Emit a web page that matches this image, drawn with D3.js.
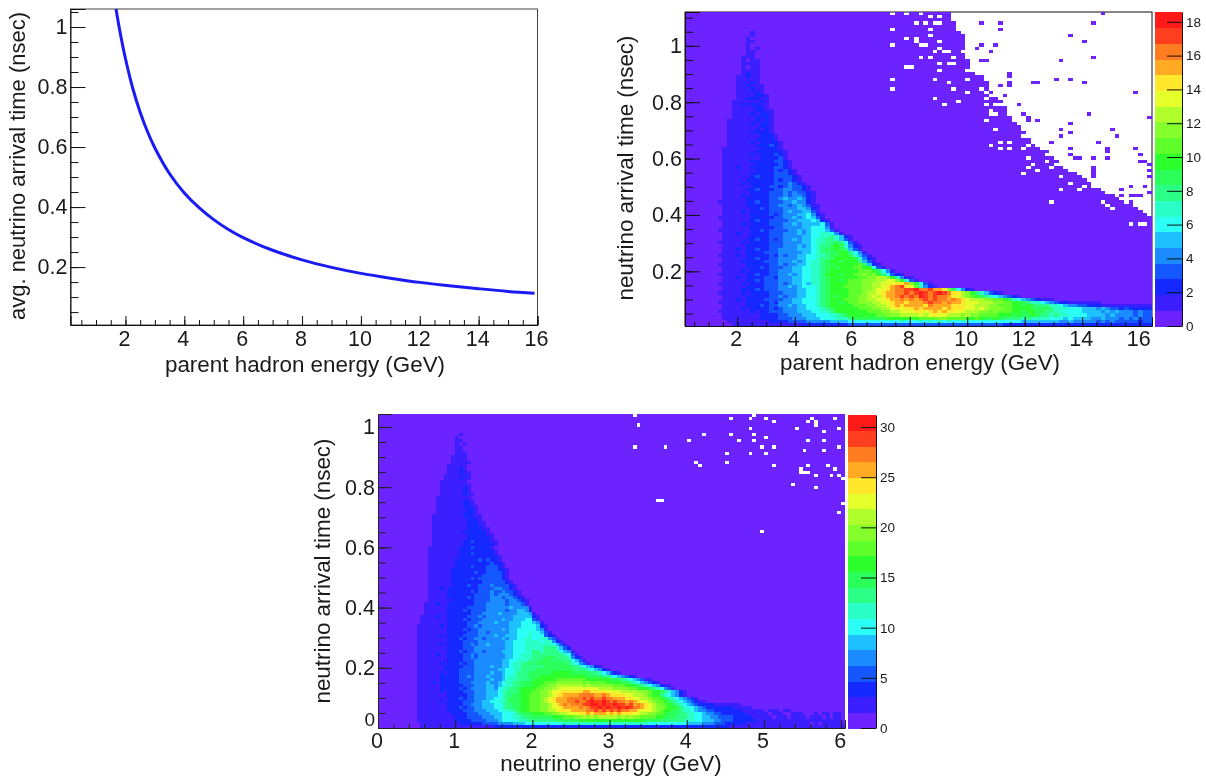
<!DOCTYPE html>
<html><head><meta charset="utf-8">
<script src="https://cdn.jsdelivr.net/npm/d3@7"></script>
<style>
html,body{margin:0;padding:0;background:#fff}
svg{display:block;filter:blur(0.4px)}
text{font-family:"Liberation Sans",Arial,sans-serif;fill:#1a1a1a}
</style></head><body>
<svg id="c" width="1206" height="777"></svg>
<script>
// ---------- data ----------
const curveEnergy = [1.68,1.8,2,2.25,2.5,2.75,3,3.5,4,4.5,5,5.5,6,7,8,9,10,11,12,13,14,15,15.9];
const curveTime   = [1.06,0.992,0.895,0.795,0.716,0.651,0.597,0.511,0.447,0.398,0.358,0.325,0.298,0.256,0.224,0.199,0.179,0.163,0.149,0.138,0.128,0.119,0.113];

const levelColors = ["#6c23ff","#3c1fff","#1428ff","#1557ff","#1b8cff","#1fc0ff","#2bfff5","#2bffc8","#2bff85","#2bff5a","#2cff2c","#5fff2c","#85ff2c","#b0ff2c","#e4ff2c","#ffe82c","#ffaa22","#ff7c20","#ff3e20","#ff1a1a"];

// Bin contents as palette levels (0-9, a-j), bottom row first: [first coloured column, levels]
const hadronRows = [
[10,"11111111 1111111222 2222222333 3333333333 3333333333 3333333333 2222222222 2222222222 222222222222"],
[9,"111111111 2222333344 4445555666 6666666676 6676767676 6766666666 6666555555 5544544444 343433333233"],
[8,"1111111122 2233344455 5666777899 99999aaaaa aabbbbccbb bbaaba99a9 8888787777 6665655554 454443434333"],
[8,"1111111122 2233444555 6667789aaa aaabbcccdd ddedefeedd dcdccbbbba aa9a99a988 7877666655 554544443433"],
[7,"11111112122 3334445556 6778aaaaaa abbbccddee effefgfgff eedddccbcb bbaa9aa998 8776666555 545454443433"],
[8,"1111212222 3234445566 6789aaaaab bbccddefef fgfggggfgf ffeededccc bbaaaa9999 8777666555 454332322222"],
[8,"1111122232 3344545566 789aaaaabb bccddefgfg gggfhggggf ffeedddccb bbaa9a9888 7765443322 211111111111"],
[7,"11111122222 3244455666 789aa9abbc ccddeefggf ggghihhghg gfeeedddcc bbaa987765 4322111111 1"],
[8,"1112122223 3334455666 789aaabbbc cddeefgghg hghihihhgh gfedddccbb a976543211 1"],
[8,"1111122222 3343445566 789a9aabbc cdedfgghih ihjihihhgf edcba98765 4321"],
[7,"11111212222 3334445566 789aaaabbb cddefgghhi hijihijihf fdca875321"],
[8,"1111222323 3344445566 789aaaabbb ccdeefghhi ijhhiggfc9 6421"],
[8,"1111122223 3344545666 789aaabbbb ccddefghif eb7421"],
[7,"11111212223 3343455657 789aaaabbb ccddeeeffg ca631"],
[8,"1111122323 3344455667 789aa9abbb cccddeeca7 31"],
[8,"1112122223 3244455667 789aaaaaab bccddca741 1"],
[7,"11111122322 3344545667 78aaa9aabb cbca86321"],
[8,"1111212222 3344455667 789aaaaaab bba9641"],
[8,"1111122232 3334455667 789a9aaabb aa631"],
[7,"11111122222 3343445567 7899aaaaab 9521"],
[8,"1111222223 3344454567 789aa9aaa8 531"],
[8,"1111122322 3344445566 7889aaaa97 421"],
[7,"11112122222 3243445566 77899aa975 31"],
[8,"1111122223 3344444556 78899aa864 1"],
[8,"1112122322 3344445556 7899a98531"],
[8,"1111122222 3334445456 7889a97421"],
[7,"11111212222 3334444556 778898631"],
[8,"1111122322 3234454556 77887531"],
[8,"1111112222 3334444556 67787521"],
[8,"1112112222 3334445456 677641"],
[7,"11111112232 3333445456 66531"],
[8,"1111112222 2334444556 6641"],
[8,"1111212222 3334454555 5631"],
[8,"1111112322 3333445556 521"],
[7,"11111112222 2334454565 31"],
[8,"1111112222 3234445564 21"],
[8,"1111212222 3334544553 1"],
[8,"1111112232 3334445542 1"],
[8,"1111122222 3344345431 1"],
[7,"11111122322 3334454421"],
[8,"1111122222 3345445421"],
[8,"1111212222 3334344321"],
[8,"1111112222 3334343321"],
[8,"1111122322 233443321"],
[8,"1111112222 332343321"],
[8,"1111212222 23334321"],
[8,"1111122222 2323321"],
[8,"1111112322 2333321"],
[8,"1111112222 233321"],
[8,"1111111222 232321"],
[8,"1112112222 23321"],
[8,"1111111222 22321"],
[8,"1111112222 23321"],
[8,"1111111122 2231"],
[8,"1111112122 2321"],
[8,"1111111222 2221"],
[8,"1111111122 221"],
[9,"111111222 321"],
[9,"111112122 221"],
[9,"111111222 21"],
[9,"111111122 21"],
[9,"111112222 1"],
[9,"111111212 1"],
[9,"111111122 1"],
[9,"1111121221"],
[9,"1111112121"],
[10,"111112221"],
[10,"111121221"],
[10,"111112211"],
[10,"11111221"],
[10,"11212211"],
[10,"11111121"],
[11,"1122211"],
[11,"1111221"],
[11,"111121"],
[11,"111211"],
[11,"112111"],
[11,"11121"],
[11,"11111"],
[11,"11211"],
[12,"1211"],
[12,"1111"],
[12,"1011"],
[12,"1111"],
[12,"1011"],
[12,"111"],
[13,"11"],
[13,"11"],
[13,"101"],
[13,"1"],
[13,"11"],
[13,"1"],
[14,"1"],
[14,"1"]
];
// first empty column for rows 35..99 of the hadron panel
const hadronEmptyFrom = [99,98,97,96,94,93,91,90,89,87,87,86,85,84,82,81,80,80,79,78,78,76,75,75,74,73,73,72,72,71,70,70,69,69,69,68,68,67,66,66,65,65,65,64,64,62,61,61,61,61,60,60,60,60,60,60,60,60,59,58,58,58,57,57,57];
// occupied bins beyond the empty edge [col,row]
const hadronStray = [[63,96],[67,96],[67,94],[82,92],[85,90],[63,89],[66,89],[62,88],[65,87],[87,85],[80,84],[64,84],[63,84],[69,80],[69,79],[79,78],[82,78],[74,77],[75,77],[69,77],[69,76],[85,77],[67,76],[96,74],[68,73],[71,70],[86,67],[72,67],[73,65],[73,66],[75,65],[99,66],[82,64],[80,62],[82,61],[91,62],[80,60],[92,60],[78,58],[88,58],[82,56],[90,56],[90,55],[96,56],[82,54],[83,53],[84,53],[87,53],[90,53],[97,54],[97,52],[98,52],[99,51],[99,49],[99,47],[87,50],[87,49],[87,48],[87,47],[95,44],[98,44],[93,43],[99,42],[89,99],[87,96],[91,41],[93,41],[95,41],[96,41],[97,41],[95,39]];
// empty bins inside the occupied region [col,row]
const hadronHoles = [[44,99],[47,99],[50,99],[52,98],[53,96],[54,98],[49,96],[51,96],[54,96],[44,94],[52,94],[47,91],[49,91],[52,92],[54,90],[49,90],[44,89],[50,89],[51,89],[54,88],[53,87],[55,87],[56,87],[59,87],[50,85],[52,85],[57,85],[47,82],[48,82],[54,83],[56,83],[54,81],[57,83],[60,81],[61,82],[44,78],[53,78],[56,77],[60,78],[64,78],[44,75],[57,75],[53,72],[60,74],[63,75],[64,74],[65,73],[55,70],[58,71],[64,72],[64,70],[65,68],[66,70],[67,70],[65,67],[66,67],[64,65],[66,62],[67,58],[69,58],[65,57],[67,56],[69,56],[72,56],[73,53],[73,50],[75,49],[72,48],[74,51],[80,47],[82,45],[80,43],[84,43],[85,44],[78,39],[89,39],[90,38],[91,37],[72,60],[74,58],[73,57],[75,57],[76,56],[77,54],[77,52],[78,50],[79,51],[95,32],[97,32],[98,32]];

const neutrinoRows = [
[11,"111111111 1111111111 2222222222 2222222222 2222222222 2222222222 2222222222 2222222222 2111111111 1111111111 1111111111 1"],
[11,"111111111 1222222333 3444455566 6666666677 7777777777 7777777777 6666666666 5555444333 2222211111 1111111111 1101011111"],
[10,"1111111111 2222333344 4566667778 8888889999 99aaaaaaaa aaaaaaaaa9 9998988887 7766555443 3322222211 1111111111 1111111111"],
[10,"1111111111 2223333444 5566677889 99999aaabb bccdcdcddd ddcdcdccbb bbaa999888 7766554433 3322222111 1101110111 1011101011"],
[10,"1111111112 2223334445 5566678999 aaabbccdde eeffgfgggf gfgfffeedd ccbba99988 7766544332 2222211111 1011100111 0001011011"],
[10,"1111111122 2233344455 5667789aab bbccddefff gggghhihih ihihhggfee edcbaa9987 7654433222 2222111111 0111011"],
[10,"1111111122 2323344555 6678899aab bbccdeefgg gghghiijij iijijihhgf edccbaa987 6654322222 2211111"],
[10,"1111111122 2233444555 6678899aab bbccdefghg hhhiijjiji ijiihighgf edcbba9876 5432222111 1111"],
[10,"1111112122 2233344556 6778999aab bbcdefgggh hihhijiiji hihhghgfee dcbba98765 43211"],
[10,"1111111122 2323344455 6678999aab bbcdefgggh hhhihihhih hgggffeedd cbba987654 321"],
[10,"1111111122 2223344455 5678899aab bbccdeffgg gghhhhgghg ffffeedddc baa8765421"],
[10,"1111112122 2233344455 5678889aaa bbccdeefff fffggffffe eeeddddccc baa9875421"],
[10,"1111112222 2323444455 4677889aaa abbccddeee eeeeeeeddd dccccbbaaa 9876431"],
[10,"1111112222 2233344455 4567788999 aabbccdddd dddcdccccc cbbbaa9987 654211"],
[10,"1111212222 2333444454 4567788999 aaabbbcccc cccbcbbbba aaa9987654 321"],
[10,"1111112222 2333344445 4457778889 9aaaaabbbb bbbbaaaaaa 9998765431 1"],
[10,"1111112222 2334344454 4456778889 99aaaaaaaa aaaa999988 7654321"],
[10,"1111112122 2333344445 4456678889 99999aaaaa 9999988765 321"],
[10,"1111111222 2333344444 4556677888 8999999999 9888765421"],
[10,"1111111222 2233344445 4455677888 8889999999 88765421"],
[10,"1111112122 2323344444 4455677889 8999999998 76431"],
[10,"1111111122 2233344444 4455667778 8899989888 6531"],
[10,"1111111122 2233434444 4445566777 8889998887 421"],
[10,"1111121122 2233434444 4445566777 8888888876 31"],
[10,"1111111122 2323344344 4455566677 8878888654 1"],
[10,"1111111122 2233344444 4445566677 7778887532"],
[10,"1111112122 2233434454 4445566677 777776531"],
[10,"1111111122 2233334444 4445566677 77677421"],
[10,"1111111122 2323344344 4454556677 6677431"],
[10,"1111112122 2233334444 5445556667 666321"],
[10,"1111111122 2223334434 4444556667 66531"],
[10,"1111111122 2232334444 4454556666 6541"],
[10,"1111112122 2223343444 4444555666 6521"],
[11,"111111122 2223334444 5444555666 541"],
[11,"111111122 2232333444 4454455566 31"],
[11,"111121122 2223334344 4444455555 21"],
[12,"11111122 2222333444 4544445554 1"],
[12,"11111122 2232333344 4443445542"],
[12,"11111122 2223333344 4444544441"],
[12,"11121122 2222233344 444344431"],
[13,"1111112 2222233334 444344321"],
[13,"1111122 2223233334 44344321"],
[13,"1111122 2222233334 3444321"],
[13,"1111122 2222323334 3343321"],
[13,"1112122 2222223333 443321"],
[13,"1111112 2223223334 333321"],
[13,"1111112 2222222333 33321"],
[13,"1111112 2222323333 3321"],
[13,"1111112 2222222333 3321"],
[13,"1111112 2222232233 3321"],
[13,"1111112 2222222233 3221"],
[13,"1111111 2222322233 321"],
[13,"1111111 2222222223 221"],
[13,"1111111 2222223232 21"],
[13,"1111111 1222222222 21"],
[13,"1111111 1222322222 1"],
[13,"1111111 1222222222 1"],
[13,"1111111 122232222 1"],
[14,"111111 1122222222 1"],
[14,"111111 1122322221 1"],
[14,"111111 1112222221"],
[14,"111111 1112222211"],
[14,"111111 112222221"],
[14,"111111 111222211"],
[14,"111111 11122221"],
[14,"111111 11122211"],
[14,"111111 1112221"],
[14,"111111 1122211"],
[15,"11111 112221"],
[15,"11111 111221"],
[15,"11111 112211"],
[15,"11111 11221"],
[15,"11111 11211"],
[15,"11111 1111"],
[16,"1111 11211"],
[16,"1111 1121"],
[16,"1111 1121"],
[16,"1111 1111"],
[16,"1111 111"],
[17,"111 1211"],
[17,"111 1121"],
[18,"11 1211"],
[18,"11 121"],
[18,"11 111"],
[19,"1 1111"],
[19,"1111"],
[19,"1111"],
[20,"111"],
[20,"11"],
[20,"11"],
[20,"101"],
[20,"11"],
[20,"1"],
[21,"1"]
];
const neutrinoHoles = [[66,99],[91,98],[96,98],[97,99],[100,98],[102,97],[112,98],[111,97],[113,97],[113,96],[118,98],[67,96],[96,95],[108,95],[119,95],[115,94],[84,93],[91,93],[97,93],[100,92],[80,91],[93,91],[97,91],[111,91],[115,91],[66,89],[74,89],[99,89],[102,89],[119,89],[110,88],[115,88],[90,87],[96,87],[100,87],[82,84],[90,84],[83,83],[102,83],[111,83],[116,83],[118,82],[109,82],[109,81],[110,81],[111,81],[113,80],[117,80],[119,80],[120,79],[107,77],[113,76],[72,72],[73,72],[120,71],[119,68],[99,62]];

const hadronLabel = "parent hadron energy (GeV)";
const neutrinoLabel = "neutrino energy (GeV)";
const meanTitle = "avg. neutrino arrival time (nsec)";
const timeTitle = "neutrino arrival time (nsec)";
const curveXTicks = [2,4,6,8,10,12,14,16];
const curveYTicks = [0.2,0.4,0.6,0.8,1];
const hadronZTicks = [0,2,4,6,8,10,12,14,16,18];
const neutrinoXTicks = [0,1,2,3,4,5,6];
const neutrinoYTicks = [0,0.2,0.4,0.6,0.8,1];
const neutrinoZTicks = [0,5,10,15,20,25,30];

// ---------- drawing ----------
const svg = d3.select("#c");
const tickFmt = d => d3.format("~g")(d);
function range(a,b,s){const o=[];for(let i=0;Math.round(i*1e6)/1e6<=(b-a)/s+1e-9;i++)o.push(+(a+i*s).toFixed(4));return o;}

function axes(g,box,x,y,o){
  const strokeCol = o.axisColor||"#111";
  const xa=g.append("g").attr("transform",`translate(0,${box.b})`);
  xa.append("g").call(d3.axisBottom(x).tickValues(o.xMinor).tickSize(-o.xMinorLen).tickFormat("")).call(s=>s.select(".domain").remove());
  xa.append("g").call(d3.axisBottom(x).tickValues(o.xTicks).tickSize(-o.xMajorLen).tickFormat(tickFmt))
    .call(s=>s.selectAll("text").attr("font-size",o.tickFont).attr("dy",0).attr("y",o.xPad).attr("x",-1.5));
  const ya=g.append("g").attr("transform",`translate(${box.l},0)`);
  ya.append("g").call(d3.axisLeft(y).tickValues(o.yMinor).tickSize(-o.yMinorLen).tickFormat("")).call(s=>s.select(".domain").remove());
  ya.append("g").call(d3.axisLeft(y).tickValues(o.yTicks).tickSize(-o.yMajorLen).tickPadding(o.yPad).tickFormat(tickFmt))
    .call(s=>s.selectAll("text").attr("font-size",o.tickFont)
      .filter(d=>d===0).attr("y",-9).attr("font-size",19));
  g.selectAll(".tick line,.domain").attr("stroke",strokeCol).attr("stroke-width",1);
  g.append("text").attr("x",o.xTitleX).attr("y",o.xTitleY).attr("text-anchor","middle").attr("font-size",o.xTitleFont).text(o.xTitle);
  g.append("text").attr("transform",`translate(${o.yTitleX},${o.yTitleY}) rotate(-90)`).attr("text-anchor","middle").attr("font-size",o.yTitleFont).text(o.yTitle);
}

function heat(g,box,rows,nCols,nRows,holes,emptyFrom,emptyBase,stray){
  const cx=d3.scaleLinear([0,nCols],[box.l,box.r]);
  const cy=d3.scaleLinear([0,nRows],[box.b,box.t]);
  const cells=[];
  const holeSet=new Set(holes.map(h=>h[0]+"_"+h[1]));
  const straySet=new Set(stray.map(h=>h[0]+"_"+h[1]));
  for(let r=0;r<nRows;r++){
    const row=rows[r]||[0,""];
    const s=row[1].replace(/ /g,"");
    const end=(emptyFrom&&r>=emptyBase)?emptyFrom[r-emptyBase]:nCols;
    for(let c=0;c<nCols;c++){
      if(holeSet.has(c+"_"+r)) continue;
      if(c>=end && !straySet.has(c+"_"+r)) continue;
      const i=c-row[0];
      const lv=(i>=0&&i<s.length)?parseInt(s[i],36):0;
      cells.push({c,r,lv});
    }
  }
  g.append("g").attr("shape-rendering","crispEdges").selectAll("rect").data(cells).join("rect")
    .attr("x",d=>cx(d.c)).attr("y",d=>cy(d.r+1))
    .attr("width",d=>cx(d.c+1)-cx(d.c)).attr("height",d=>cy(d.r)-cy(d.r+1))
    .attr("fill",d=>levelColors[d.lv]);
}

function colorBar(g,bar,zMax,zTicks){
  const z=d3.scaleLinear([0,zMax],[bar.b,bar.t]);
  const step=zMax/levelColors.length;
  g.append("g").attr("shape-rendering","crispEdges").selectAll("rect").data(levelColors).join("rect")
    .attr("x",bar.l).attr("width",bar.r-bar.l)
    .attr("y",(d,i)=>z((i+1)*step)).attr("height",(d,i)=>z(i*step)-z((i+1)*step)+0.5)
    .attr("fill",d=>d);
  const a=g.append("g").attr("transform",`translate(${bar.r},0)`)
    .call(d3.axisRight(z).tickValues(zTicks).tickSize(0).tickPadding(4).tickFormat(tickFmt));
  a.selectAll("text").attr("font-size",13.5).attr("fill","#333");
  a.selectAll(".tick line").attr("x1",-15).attr("x2",0).attr("stroke","#111");
  a.select(".domain").attr("stroke","#111");
}

// Panel 1: mean curve
{
  const box={l:70.5,r:537.5,t:9,b:325};
  const g=svg.append("g");
  const x=d3.scaleLinear([0.133,16],[box.l,box.r]);
  const y=d3.scaleLinear([0.007,1.06],[box.b,box.t]);
  g.append("rect").attr("x",box.l).attr("y",box.t).attr("width",box.r-box.l).attr("height",box.b-box.t).attr("fill","#fff").attr("stroke","#444");
  axes(g,box,x,y,{xTicks:curveXTicks,xMinor:range(0.5,16,0.5),yTicks:curveYTicks,yMinor:range(0.05,1.05,0.05),
    xMajorLen:9,xMinorLen:5,yMajorLen:15,yMinorLen:8,xPad:21,yPad:3,tickFont:21.5,xTitleFont:22.4,yTitleFont:22,
    xTitle:hadronLabel,xTitleX:305,xTitleY:372,yTitle:meanTitle,yTitleX:25,yTitleY:166});
  const line=d3.line().x((d,i)=>x(curveEnergy[i])).y(d=>y(d)).curve(d3.curveCatmullRom);
  g.append("path").attr("d",line(curveTime)).attr("fill","none").attr("stroke","#1a1af5").attr("stroke-width",3);
}

// Panel 2: hadron energy heat map
{
  const box={l:685,r:1152,t:12,b:326};
  const g=svg.append("g");
  const x=d3.scaleLinear([0.18,16.43],[box.l,box.r]);
  const y=d3.scaleLinear([0.006,1.12],[box.b,box.t]);
  g.append("rect").attr("x",box.l).attr("y",box.t).attr("width",box.r-box.l).attr("height",box.b-box.t).attr("fill","#fff").attr("stroke","#111");
  heat(g,box,hadronRows,100,100,hadronHoles,hadronEmptyFrom,35,hadronStray);
  axes(g,box,x,y,{xTicks:curveXTicks,xMinor:range(0.5,16,0.5),yTicks:curveYTicks,yMinor:range(0.05,1.1,0.05),
    xMajorLen:9,xMinorLen:4,yMajorLen:15,yMinorLen:8,xPad:20,yPad:3,tickFont:21.5,xTitleFont:22.4,yTitleFont:22.4,
    xTitle:hadronLabel,xTitleX:920,xTitleY:370,yTitle:timeTitle,yTitleX:633,yTitleY:168});
  colorBar(g,{l:1155,r:1182,t:12,b:326},18.58,hadronZTicks);
}

// Panel 3: neutrino energy heat map
{
  const box={l:378,r:845,t:414,b:728};
  const g=svg.append("g");
  const x=d3.scaleLinear([0,6.05],[box.l,box.r]);
  const y=d3.scaleLinear([0,1.043],[box.b,box.t]);
  heat(g,box,neutrinoRows,121,100,neutrinoHoles,null,0,[]);
  axes(g,box,x,y,{xTicks:neutrinoXTicks,xMinor:range(0.2,6,0.2),yTicks:neutrinoYTicks,yMinor:range(0.05,1,0.05),
    xMajorLen:8,xMinorLen:4,yMajorLen:14,yMinorLen:8,xPad:20,yPad:3,tickFont:21.5,xTitleFont:22.4,yTitleFont:22.4,axisColor:"#222",
    xTitle:neutrinoLabel,xTitleX:611,xTitleY:771,yTitle:timeTitle,yTitleX:330,yTitleY:571});
  colorBar(g,{l:848,r:876,t:415,b:728},31.2,neutrinoZTicks);
}
</script>
</body></html>
